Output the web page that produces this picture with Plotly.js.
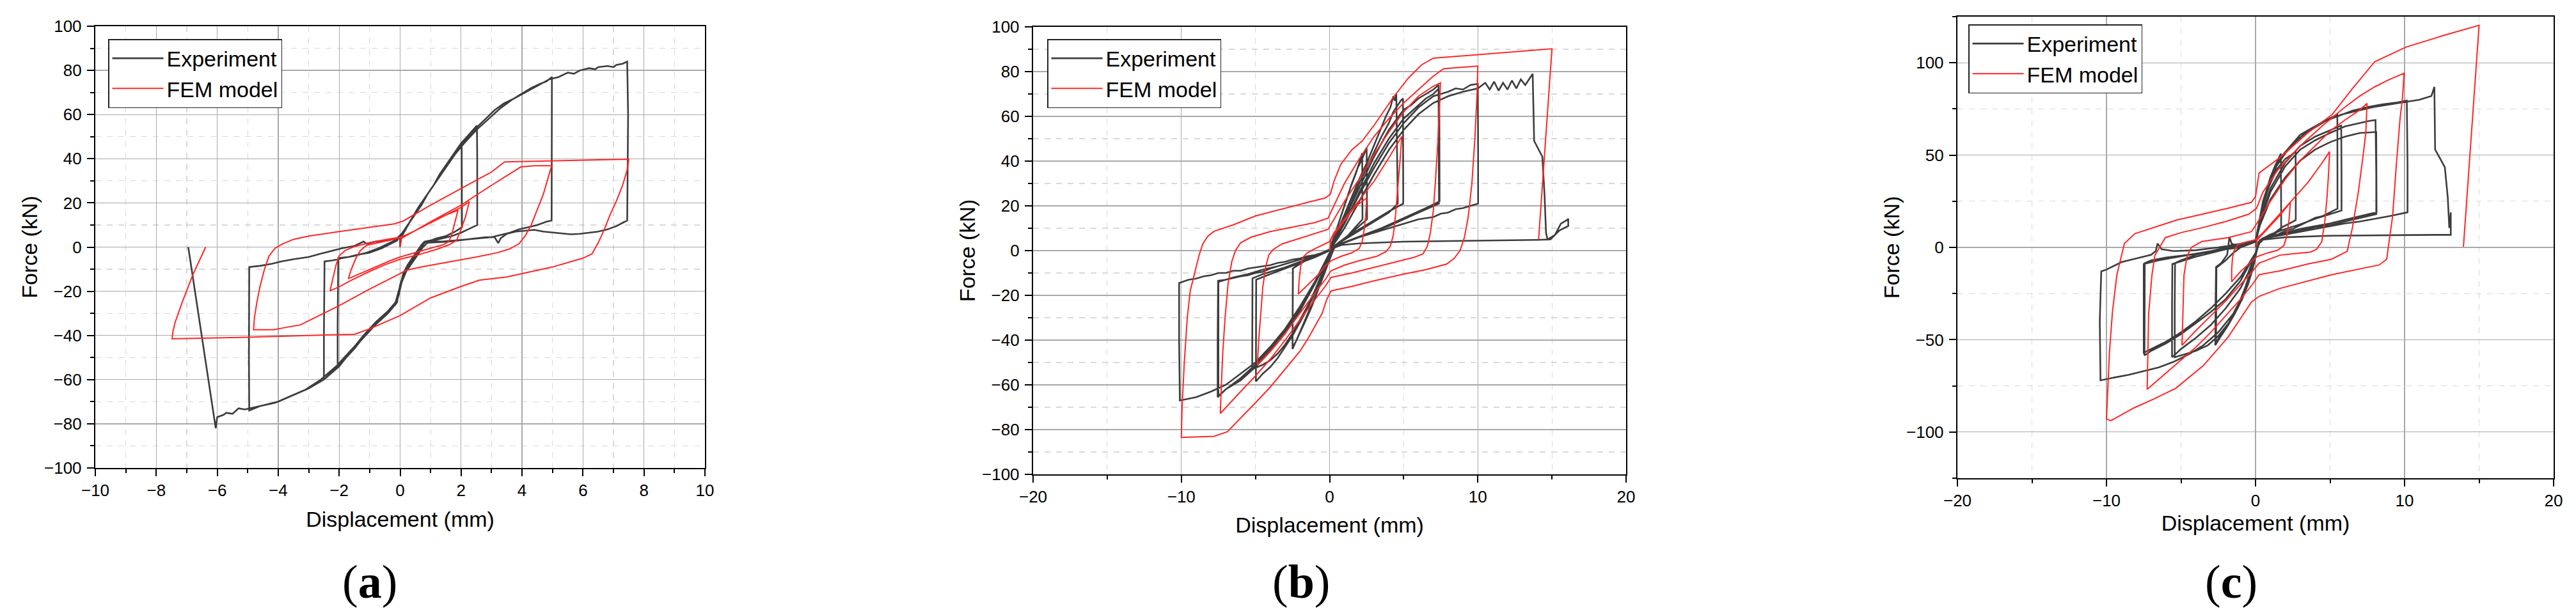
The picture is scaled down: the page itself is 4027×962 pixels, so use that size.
<!DOCTYPE html>
<html>
<head>
<meta charset="utf-8">
<script src="https://cdn.plot.ly/plotly-3.0.1.min.js"></script>
<style>html,body{margin:0;padding:0;background:#fff;}#chart{width:4027px;height:962px;}</style>
</head>
<body>
<div id="chart"></div>
<script>
// ---------- DATA (x = displacement mm, y = force kN) ----------
const seriesNames = ['Experiment', 'FEM model'];
const panelLabels = ['a', 'b', 'c'];

// Panel (a) experiment
const expA = [[0,0],[0,4],[0.1,6],[0.3,11],[0.5,15],[0.7,19],[0.9,24],[1.1,28],[1.3,33],[1.5,37],[1.7,41],[1.9,45],[2.02,47],
[2.03,30],[2.03,9],[1.8,7],[1.5,5],[1.2,4],[1.0,3],[0.8,2.5],[0.7,1],[0.5,-3],[0.3,-7],[0.15,-11],[0.05,-15],[-0.05,-20],[-0.15,-25],[-0.4,-29],[-0.8,-34],[-1.2,-40],[-1.6,-47],[-1.9,-52],[-2.05,-54],
[-2.05,-35],[-2.03,-5],[-1.7,-4.5],[-1.4,-3.5],[-1.0,-2.5],[-0.6,-0.5],[-0.3,1.5],[-0.1,3],[0,5],
[0.2,9],[0.4,13],[0.6,18],[0.8,22],[1.0,26],[1.2,30],[1.5,37],[1.8,43],[2.0,47],[2.2,50],[2.4,53],[2.52,55],
[2.53,40],[2.53,10],[2.3,8.5],[2.0,6.5],[1.7,5],[1.4,4],[1.1,3],[0.8,2.5],[0.65,0],[0.45,-4],[0.25,-8],[0.1,-12],[0,-18],[-0.1,-24],[-0.3,-28],[-0.7,-33],[-1.1,-39],[-1.5,-46],[-1.9,-52],[-2.2,-56],[-2.5,-60],
[-2.5,-40],[-2.48,-6.5],[-2.2,-6],[-1.9,-5],[-1.5,-4],[-1.1,-2.5],[-0.7,-0.5],[-0.4,1.5],[-0.1,3.5],[0.05,6],
[0.3,11],[0.6,18],[0.9,24],[1.2,30],[1.5,37],[1.8,43],[2.1,48],[2.5,54],[2.8,58],[3.1,62],[3.4,65],[3.7,67],[4.0,69.5],[4.3,72],[4.6,74],[4.8,75],[4.98,77],
[4.98,50],[4.97,12],[4.8,11.5],[4.5,10],[4.2,9],[3.9,8],[3.6,6.5],[3.3,5.5],[3.0,4.5],[2.6,4],[2.2,3.5],[1.8,3],[1.4,2.5],[1.0,2.5],[0.8,2],[0.7,0],[0.5,-4],[0.3,-8],[0.15,-11],[0,-17],[-0.1,-25],[-0.4,-30],[-0.8,-35],[-1.2,-41],[-1.6,-47],[-2.0,-54],[-2.5,-60],[-3.0,-64],[-3.5,-67],[-4.0,-70],[-4.3,-71],[-4.6,-72],[-4.95,-74],
[-4.96,-50],[-4.95,-9],[-4.6,-8.5],[-4.2,-7.5],[-3.9,-6.5],[-3.5,-5.5],[-3.0,-4.5],[-2.6,-3],[-2.3,-2],[-1.9,-0.5],[-1.5,0.5],[-1.2,2.5],[-1.1,1.5],[-0.8,2.5],[-0.4,3],[-0.1,4],[0.05,6],
[0.3,11],[0.6,18],[0.9,24],[1.2,30],[1.5,36],[1.8,42],[2.1,47],[2.5,53],[2.9,58],[3.3,63],[3.7,67],[4.1,70],[4.5,73],[4.9,76],[5.2,77],[5.5,79],[5.7,78.5],[5.9,80],[6.2,81],[6.4,80.5],[6.5,81.5],[6.8,82],[7.0,81.5],[7.1,82.5],[7.3,83],[7.45,84],
[7.48,60],[7.46,20],[7.45,12],[7.3,11],[7.1,9.5],[6.8,8],[6.5,7],[6.2,6.5],[5.9,6],[5.6,5.8],[5.3,6.2],[5.0,6.5],[4.7,7],[4.4,7.8],[4.1,7.5],[3.8,7],[3.5,6],[3.3,4],[3.22,1.8],[3.1,4.5],[2.8,4.5],[2.4,3.8],[2.0,3],[1.6,2.5],[1.2,2.2],[0.9,2],[0.75,0],[0.55,-4],[0.35,-8],[0.2,-11],[0.05,-16],[-0.05,-22],[-0.15,-26],[-0.5,-31],[-0.9,-36],[-1.3,-42],[-1.7,-48],[-2.1,-54],[-2.6,-60],[-3.1,-64.5],[-3.6,-67.5],[-4.1,-70.5],[-4.6,-72],[-5.1,-73.5],[-5.3,-73],[-5.5,-75.5],[-5.7,-75],[-5.8,-76],[-6.0,-77],[-6.05,-82],
[-6.95,0]];

// Panel (a) FEM model
const femA = [[0,0],[0.05,4],[0.5,7.5],[1.0,11],[1.5,14.5],[1.9,16.7],
[1.8,11],[1.7,6],[1.6,2.5],[1.4,1],[1.0,-0.5],[0.5,-2.5],[0,-4.5],[-0.3,-6],[-0.8,-9],[-1.3,-12],[-1.7,-14.3],
[-1.6,-10],[-1.45,-5],[-1.3,-1.5],[-1.1,0.8],[-0.7,2],[-0.2,3.5],[0,4.2],[0.5,7.5],[1.0,11],[1.5,14.5],[2.0,18],[2.27,20.6],
[2.15,14],[2.0,8],[1.85,3],[1.6,1],[1.2,-1],[0.6,-3.5],[0,-5.5],[-0.5,-8],[-1.0,-11],[-1.6,-15],[-2.0,-18],[-2.3,-19.8],
[-2.22,-15],[-2.1,-8],[-2.0,-4],[-1.8,-1.5],[-1.5,0.2],[-1.0,2],[-0.5,3.3],[0,4.5],[0.3,6],[1.0,11.5],[2.0,19],[3.0,28],[3.96,36.3],[4.4,36.8],[4.97,36.8],
[4.85,31],[4.7,24],[4.5,17],[4.3,10],[4.1,5],[3.9,1.5],[3.6,-0.8],[3.2,-2.5],[2.5,-4.5],[1.5,-7],[0.7,-9],[0.2,-10.5],[0,-12],[-0.5,-15.5],[-1.0,-19],[-2.0,-26.5],[-3.27,-35.2],[-3.8,-36.5],[-4.15,-37.4],[-4.81,-37.4],
[-4.78,-32],[-4.7,-25],[-4.6,-18],[-4.45,-10],[-4.3,-4],[-4.1,-0.5],[-3.85,1.5],[-3.5,3.5],[-3.0,5],[-2.0,7],[-1.0,9],[-0.2,10.5],[0.1,11.8],[1.0,19],[2.0,26.5],[3.0,34],[3.43,38.6],[5.0,39],[6.5,39.5],[7.5,39.8],
[7.45,35],[7.3,28],[7.1,21],[6.9,15],[6.7,8],[6.5,2],[6.3,-3],[6.0,-5],[5.5,-7],[5.0,-9],[4.0,-12],[3.5,-13.5],[2.6,-15],[2.0,-17.8],[1.0,-23],[0,-31],[-1.0,-37],[-1.5,-39.5],[-3.0,-40],[-5.0,-40.8],[-7.48,-41.5],
[-7.45,-38],[-7.38,-34],[-7.15,-25],[-6.8,-12.5],[-6.38,0]];

// Panel (b) experiment
const expB = [[0,0],[0.3,6],[0.6,12],[1.0,20],[1.4,28],[1.8,35],[2.0,39],[2.2,43.6],
[2.22,14],[1.8,11],[1.4,8],[1.0,5],[0.6,3],[0.3,1],[0,-4],[-0.4,-11],[-0.8,-18],[-1.2,-25],[-1.6,-31],[-2.0,-37],[-2.3,-41],[-2.5,-43],
[-2.48,-8],[-2.0,-6],[-1.5,-4],[-1.0,-2.5],[-0.5,-1],[0,0.5],
[0.3,6],[0.7,14],[1.1,22],[1.5,30],[1.9,37],[2.2,41],[2.5,46],
[2.53,14],[2.0,11],[1.5,8],[1.0,5.5],[0.5,3],[0.2,1],[0,-4],[-0.4,-11],[-0.8,-18],[-1.2,-24],[-1.7,-32],[-2.1,-38],[-2.5,-44],
[-2.47,-8],[-2.0,-5.5],[-1.5,-4],[-1.0,-2],[-0.5,-1],[0,0.5],
[0.5,8],[1.0,16],[1.5,24],[2.0,32],[2.5,39],[3.0,47],[3.5,55],[3.8,60],[4.1,64],[4.3,69],[4.4,67],[4.5,70],
[4.55,45],[4.6,21],[4.0,17],[3.0,13],[2.0,9],[1.0,5],[0.3,2],[0,-3],[-0.5,-10],[-1.0,-18],[-1.5,-25],[-2.0,-31],[-2.5,-37],[-3.0,-42],[-3.5,-46],[-4.0,-49],[-4.5,-51],[-5.22,-53],
[-5.22,-30],[-5.2,-12.4],[-4.5,-10.5],[-4.0,-9.5],[-3.0,-7.5],[-2.0,-5],[-1.0,-2.5],[0,0],
[0.5,7],[1.0,15],[1.5,22],[2.0,30],[2.5,37],[3.0,44],[3.5,51],[4.0,57],[4.3,62],[4.6,65],[4.8,67],[4.95,68],
[4.97,40],[4.97,21],[4.0,17.5],[3.0,13.5],[2.0,9.5],[1.0,5.5],[0.3,2],[0,-3],[-0.5,-11],[-1.0,-19],[-1.5,-26],[-2.0,-32],[-2.5,-38],[-3.0,-43],[-3.5,-48],[-4.0,-52],[-4.5,-55],[-4.97,-58.5],
[-4.97,-30],[-4.95,-13],[-4.0,-10.5],[-3.0,-8],[-2.0,-5.5],[-1.0,-3],[0,0],
[0.5,7],[1.0,14],[1.5,21],[2.0,28],[3.0,42],[4.0,54],[5.0,63],[5.5,65],[6.0,68],[6.5,70],[7.0,72],[7.35,74],
[7.38,40],[7.38,21],[6.0,17],[5.0,14],[4.0,11],[3.0,8.5],[2.0,6],[1.0,3.5],[0.3,1.5],[0,-2],[-1.0,-15],[-2.0,-27],[-3.0,-37],[-4.0,-45],[-5.0,-52],[-6.0,-58],[-7.0,-62],[-7.55,-65.5],
[-7.55,-40],[-7.52,-13.5],[-7.0,-13],[-6.0,-11.5],[-5.5,-11],[-5.0,-10],[-4.5,-9.5],[-4.0,-8],[-3.0,-6],[-2.0,-4],[-1.0,-2],[0,0],
[0.5,6],[1.0,13],[1.5,19],[2.0,26],[3.0,39],[4.0,50],[5.0,59],[6.0,65],[6.5,68],[7.0,70],[7.3,72],[7.4,71],
[7.42,22],[6.5,19],[5.5,16],[4.5,13],[3.5,10],[2.5,7.5],[1.5,5],[0.5,2.5],[0,-1],[-1.0,-14],[-2.0,-26],[-3.0,-36],[-4.0,-44],[-5.0,-51],[-6.0,-57],[-7.0,-62],[-7.5,-65],
[-7.5,-14],[-6.5,-12],[-5.5,-10.5],[-4.5,-8.5],[-3.5,-7],[-2.5,-5],[-1.5,-3],[0,0],
[1.0,12],[2.0,25],[3.0,37],[4.0,48],[5.0,57],[6.0,64],[7.0,69],[8.0,71],[8.5,72.5],[9.0,72],[9.5,74],[10.0,74.5],
[10.02,45],[10.02,21],[9.5,20],[9.0,19],[8.5,18.5],[8.0,17],[7.5,16.5],[7.0,15],[6.0,14],[5.0,12],[4.0,10],[3.0,8],[2.0,6],[1.0,3.5],[0.3,1.5],[0,-2],[-1.0,-14],[-2.0,-25],[-3.0,-35],[-4.0,-43],[-5.0,-50],[-6.0,-55],[-7.0,-60],[-8.0,-63],[-9.0,-65.5],[-10.1,-67],
[-10.15,-40],[-10.15,-14.5],[-9.5,-13],[-9.0,-12.5],[-8.5,-11.5],[-8.0,-11],[-7.5,-10],[-7.0,-10],[-6.5,-9],[-6.0,-9],[-5.5,-8],[-5.0,-7.5],[-4.5,-7],[-4.0,-6.5],[-3.5,-5.5],[-3.0,-5],[-2.5,-4],[-2.0,-3.5],[-1.5,-2.5],[-1.0,-2],[-0.5,-1],[0,0],
[1.0,10],[2.0,22],[3.0,34],[4.0,45],[5.0,54],[6.0,61],[7.0,66],[8.0,69],[9.0,71],[10.0,72.5],[10.5,75],[10.8,72],[11.1,75.5],[11.4,71.5],[11.7,75],[12.0,72],[12.3,76],[12.6,72.5],[12.9,76.5],[13.2,74],[13.5,77],[13.7,79],
[13.8,49],[14.35,42],[14.5,25],[14.6,8],[14.7,5],[15.2,7],[15.6,12],[16.05,13.8],[16.1,14.3],[16.1,11],[15.5,9],[14.9,5],[14.0,4.8],[10.0,4.5],[5.0,4],[2.0,3.2],[0.8,2.5],[0.2,1]];

// Panel (b) FEM model
const femB = [[0,0],[0.1,5],[0.5,9],[1.0,13.5],[1.7,19.5],[2.5,23.5],
[2.45,17],[2.35,10],[2.2,4],[2.0,1],[1.5,-1],[0.8,-2.5],[0.1,-4.5],[-0.3,-7],[-0.8,-11],[-1.5,-15.5],[-2.11,-19.4],
[-2.05,-13],[-1.95,-7],[-1.8,-3],[-1.5,-1],[-1.0,0.8],[-0.5,2.5],[0,4],[0.3,8],[1.0,14],[2.0,22.5],[3.0,31],[4.0,41.5],[4.87,51],
[4.75,40],[4.6,28],[4.45,16],[4.3,7],[4.1,2],[3.8,-0.5],[3.2,-2.5],[2.0,-4.5],[1.0,-6.5],[0.1,-9],[-0.3,-13],[-1.0,-19],[-2.0,-28],[-3.0,-37],[-4.0,-45],[-4.87,-51],
[-4.78,-40],[-4.65,-28],[-4.5,-16],[-4.3,-7],[-4.1,-2],[-3.8,0.5],[-3.2,3],[-2.0,5.5],[-1.0,7.5],[-0.1,9.5],[0.3,14],[1.0,22],[2.0,32],[3.0,43],[4.0,53],[5.0,62],[6.0,69],[7.0,73.5],[7.48,75],
[7.4,62],[7.3,48],[7.15,32],[7.0,18],[6.8,8],[6.6,2],[6.3,-1.5],[5.7,-3],[4.5,-5],[3.0,-7.5],[1.5,-10],[0.1,-12],[-0.3,-16],[-1.0,-22],[-2.0,-31],[-3.0,-40],[-4.0,-48.5],[-5.0,-56],[-6.0,-63],[-7.0,-70],[-7.37,-72.8],
[-7.3,-60],[-7.2,-45],[-7.05,-30],[-6.85,-15],[-6.6,-5],[-6.35,0],[-6.0,3.5],[-5.3,6],[-4.0,8.5],[-2.5,10.5],[-1.0,12.5],[-0.1,14.5],[0.3,20],[1.0,30],[2.0,41],[3.0,51],[4.0,59],[5.0,66],[6.0,72],[7.0,78],[7.7,81.3],[10.0,82.5],
[9.95,70],[9.8,50],[9.6,30],[9.35,15],[9.1,6],[8.8,0],[8.4,-3.5],[7.9,-6],[6.5,-8.5],[5.0,-10.5],[3.0,-13.5],[1.5,-16],[0.1,-18],[-0.2,-22],[-0.5,-28],[-1.4,-38.7],[-2.0,-45],[-3.0,-53],[-4.0,-61],[-5.0,-68],[-6.0,-75],[-6.9,-81],[-7.8,-83],[-10.0,-83.5],
[-9.95,-70],[-9.8,-50],[-9.6,-30],[-9.4,-18],[-9.1,-10],[-8.8,-2],[-8.55,3],[-8.2,6.5],[-7.8,8.6],[-6.5,11.5],[-5.0,15.5],[-3.0,19],[-1.4,21.7],[-0.3,23.5],[0.05,25.2],[0.3,31],[0.75,38.5],[1.5,45],[2.2,49],[3.0,56],[4.3,68.5],[5.3,77],[6.2,83],[7.0,86],[10.0,87.5],[15.0,90.2],
[14.1,5]];

// Panel (c) experiment
const expC = [[0,0],[0.2,10],[0.4,20],[0.7,30],[1.0,38],[1.3,44],[1.7,50.8],
[1.72,20],[1.72,10],[1.4,8],[1.0,6],[0.5,4],[0.2,2],[0,-5],[-0.2,-12],[-0.5,-20],[-0.9,-28],[-1.4,-36],[-1.9,-43],[-2.4,-49],[-2.7,-53],
[-2.68,-30],[-2.65,-10.6],[-2.3,-8.5],[-1.9,-4],[-1.75,5.7],[-1.6,2],[-1.2,1],[-0.6,1.5],[0,3],
[0.2,10],[0.5,22],[0.9,33],[1.4,42],[2.0,48],[2.4,50],[2.69,52],
[2.7,30],[2.7,14.8],[2.3,13],[1.8,11],[1.3,8],[0.8,6],[0.3,3],[0,-3],[-0.3,-12],[-0.7,-22],[-1.2,-32],[-1.8,-41],[-2.4,-48],[-2.65,-52],
[-2.62,-11],[-2.0,-7],[-1.5,-3],[-1.0,0],[-0.4,2],[0,3.5],
[0.2,12],[0.5,25],[0.9,35],[1.4,44],[2.0,51],[2.6,56],[3.2,61],[3.8,64],[4.4,67],[5.0,70],[5.49,72],
[5.5,40],[5.5,21],[5.0,19],[4.5,17],[4.0,16],[3.5,14],[3.0,12],[2.5,10],[2.0,9],[1.5,7],[1.0,6],[0.5,5],[0.2,3],[0,-4],[-0.3,-14],[-0.7,-24],[-1.2,-33],[-1.8,-41],[-2.5,-48],[-3.2,-53],[-4.0,-56],[-4.8,-58],[-5.42,-59.5],
[-5.42,-30],[-5.4,-8.5],[-5.0,-7],[-4.5,-5.5],[-4.0,-4],[-3.5,-3],[-3.0,-2],[-2.0,0],[-1.0,1.5],[0,3.5],
[0.3,14],[1.0,32],[2.0,46],[3.0,55],[4.0,60],[5.0,63.5],[5.75,66],
[5.77,40],[5.77,20],[5.0,18],[4.0,15.5],[3.0,12.5],[2.0,10],[1.0,7],[0.3,4],[0,-3],[-0.5,-14],[-1.0,-22],[-2.0,-33],[-3.0,-42],[-4.0,-49],[-5.0,-55],[-5.6,-59.5],
[-5.6,-30],[-5.58,-9],[-5.0,-7.5],[-4.0,-5],[-3.0,-3],[-2.0,-1],[-1.0,1],[0,3],
[0.3,13],[1.0,30],[2.0,44],[3.0,53],[4.0,58],[5.0,62],[6.0,65.5],[7.0,67.5],[7.6,68.5],[8.05,69],
[8.1,40],[8.1,18],[7.0,16],[6.0,14],[5.0,12],[4.0,11],[3.0,9],[2.0,7.5],[1.0,6],[0.3,4],[0,-3],[-1.0,-18],[-2.0,-28],[-3.0,-35],[-4.0,-41],[-5.0,-47],[-6.0,-52],[-7.0,-56],[-7.45,-58.5],
[-7.45,-30],[-7.43,-8.5],[-7.0,-7],[-6.0,-5.5],[-5.0,-4.5],[-4.0,-3.5],[-3.0,-2.5],[-2.0,-1],[-1.0,0],[0,3],
[0.3,12],[1.0,26],[2.0,38],[3.0,47],[4.0,53],[5.0,57],[6.0,60],[7.0,62],[8.1,62.5],
[8.12,19],[7.0,17],[6.0,15],[5.0,13],[4.0,11.5],[3.0,10],[2.0,8],[1.0,6],[0.3,4],[0,-3],[-1.0,-16],[-2.0,-25],[-3.0,-33],[-4.0,-40],[-5.0,-46],[-6.0,-51],[-7.0,-55],[-7.5,-57],
[-7.5,-9],[-6.5,-7],[-5.5,-5.5],[-4.5,-4],[-3.0,-2],[-1.5,0],[0,3.5],
[0.3,14],[0.8,32],[1.5,46],[2.5,56],[3.5,63],[4.5,68],[5.5,71],[6.5,74],[7.5,76],[8.5,77.5],[9.5,78.5],[10.15,79.5],
[10.2,45],[10.2,19],[9.0,17],[8.0,15.5],[7.0,14],[6.0,13],[5.0,11.5],[4.0,10],[3.0,8.5],[2.0,7],[1.0,5.5],[0.3,4],[0,-3],[-0.3,-13],[-0.8,-25],[-1.5,-36],[-2.5,-46],[-3.5,-53],[-4.5,-58],[-5.5,-62],[-6.5,-65],[-7.5,-67],[-8.5,-69],[-9.5,-70.5],[-10.4,-72],
[-10.45,-40],[-10.35,-13],[-10.0,-12],[-9.5,-10],[-9.0,-8],[-8.0,-6],[-7.0,-4],[-6.7,-2],[-6.57,2.1],[-6.3,-1],[-5.5,-2],[-4.0,-1.5],[-2.5,0],[-1.0,2],[0,4],
[0.3,15],[0.8,33],[1.6,48],[3.0,61],[4.4,67.5],[5.8,72],[7.9,76],[10.2,79],[11.0,80],[11.8,82],[12.0,86.9],
[12.05,53],[12.7,43.5],[12.9,27],[13.0,10.5],[13.1,19],[13.1,6.8],[12.0,6.8],[8.0,6.5],[5.0,6.3],[2.0,5.5],[0.3,4]];

// Panel (c) FEM model
const femC = [[0,0],[0.1,4],[0.8,10],[1.6,17],[2.34,24.4],
[2.25,15],[2.1,6],[1.9,1],[1.5,-1.5],[0.8,-3],[0.1,-5],[-0.3,-8],[-1.0,-13],[-1.6,-18.6],
[-1.6,-12],[-1.55,-6],[-1.45,-2],[-1.2,1.5],[-0.6,3],[0,4.2],[0.5,8],[1.5,17],[2.5,26],[3.5,35],[4.4,45],[4.97,51.9],
[4.9,40],[4.8,27.5],[4.65,14],[4.44,3],[4.1,-1],[3.7,-2.5],[2.5,-3.5],[1.64,-4.2],[0.24,-8.5],[-0.3,-14],[-1.0,-20],[-2.0,-29],[-3.0,-37],[-4.0,-45],[-4.93,-53],
[-4.88,-35],[-4.8,-15],[-4.6,-5],[-4.3,0],[-3.6,3.2],[-1.85,5.3],[-0.28,8.5],[0.07,12.7],[1.0,25],[2.0,37],[3.0,47],[4.0,55],[5.0,63],[6.0,69],[7.0,74.5],[7.48,78],
[7.4,62],[7.2,48.7],[6.9,30],[6.5,10.6],[6.15,-2.1],[5.1,-6.4],[3.5,-9],[1.64,-12.7],[0.24,-14.8],[-0.2,-20],[-1.0,-28],[-2.0,-37],[-3.0,-46],[-4.0,-54],[-5.0,-61],[-6.0,-68],[-7.0,-75],[-7.27,-76.9],
[-7.17,-36],[-6.95,-15],[-6.75,-4.2],[-6.05,5.3],[-5.0,8],[-3.6,10.6],[-2.0,14],[-0.45,18],[0.07,21.2],[0.5,30],[1.5,42],[3.0,55],[4.5,66],[6.0,76],[7.0,82],[8.0,87],[9.0,91],[9.97,94.3],
[9.85,80],[9.7,70],[9.45,45],[9.2,17],[8.8,-6.4],[8.3,-9.5],[5.1,-14.8],[1.64,-22.2],[0.24,-26.5],[-0.28,-29.7],[-1.85,-48.7],[-3.5,-64],[-5.35,-76.3],[-6.8,-82],[-8.15,-86.9],[-9.2,-91.5],[-9.7,-93.8],[-10.0,-93],
[-9.9,-75],[-9.8,-57],[-9.6,-35],[-9.3,-14.8],[-8.8,2.1],[-8.1,7.4],[-5.3,14.8],[-1.85,21.2],[-0.28,24.4],[0,27.5],[0.24,40.3],[1.64,48.7],[3.5,62],[5.14,72],[6.5,86],[8.0,100.6],[10.1,108.5],[12.5,114.5],[15.0,120.3],
[13.95,0.4]];

// Axis settings per panel
const xRanges = [[-10,10],[-20,20],[-20,20]];
const yRanges = [[-100,100],[-100,100],[-125,125]];
const xMajor = [2,10,10], xMinor = [1,5,5];
const yMajor = [20,20,50], yMinor = [10,10,25];

// ---------- BUILD ----------
const W = 4027, H = 962;
const px = v => v / W, py = v => 1 - v / H;
const expColor = '#3d3d3d', femColor = '#ff2626';
const expSets = [expA, expB, expC], femSets = [femA, femB, femC];
const suffix = ['', '2', '3'];
const legendIds = ['legend', 'legend2', 'legend3'];

const traces = [];
for (let i = 0; i < 3; i++) {
  traces.push({
    x: expSets[i].map(p => p[0]), y: expSets[i].map(p => p[1]),
    type: 'scatter', mode: 'lines', name: seriesNames[0],
    xaxis: 'x' + suffix[i], yaxis: 'y' + suffix[i], legend: legendIds[i],
    line: {color: expColor, width: 2.6}
  });
  traces.push({
    x: femSets[i].map(p => p[0]), y: femSets[i].map(p => p[1]),
    type: 'scatter', mode: 'lines', name: seriesNames[1],
    xaxis: 'x' + suffix[i], yaxis: 'y' + suffix[i], legend: legendIds[i],
    line: {color: femColor, width: 2}
  });
}

// plot-area pixel boxes [left, right, top, bottom]
const boxes = [[149,1102,41,732],[1615,2542,42,742],[3060,3992,26,748]];
const legendPos = [[169,61],[1637,61],[3077,38]];
const labelX = [578, 2034, 3488];
const xTitleStandoff = [19, 18, 9];

function axisBase() {
  return {
    showline: true, linecolor: '#000', linewidth: 2.2, mirror: true,
    ticks: 'outside', ticklen: 11, tickwidth: 2, tickcolor: '#000',
    showgrid: true, gridcolor: '#a9a9a9', gridwidth: 1.4,
    zeroline: false, fixedrange: true,
    tickfont: {size: 26, color: '#000', family: 'Liberation Sans, Arial, sans-serif'},
  };
}

const layout = {
  width: W, height: H,
  margin: {l: 0, r: 0, t: 0, b: 0},
  paper_bgcolor: '#fff', plot_bgcolor: '#fff',
  font: {family: 'Liberation Sans, Arial, sans-serif', size: 26, color: '#000'},
  showlegend: true,
  annotations: []
};

for (let i = 0; i < 3; i++) {
  const b = boxes[i];
  const xa = Object.assign(axisBase(), {
    domain: [px(b[0]), px(b[1])], range: xRanges[i], dtick: xMajor[i], tick0: 0,
    anchor: 'y' + suffix[i],
    minor: {dtick: xMinor[i], tick0: 0, ticks: 'outside', ticklen: 6, tickwidth: 2, tickcolor: '#000',
            showgrid: true, gridcolor: '#d9d9d9', gridwidth: 1.2, griddash: 'dash'},
    title: {text: 'Displacement (mm)', font: {size: 34, color: '#000'}, standoff: xTitleStandoff[i]}
  });
  const ya = Object.assign(axisBase(), {
    domain: [py(b[3]), py(b[2])], range: yRanges[i], dtick: yMajor[i], tick0: 0,
    anchor: 'x' + suffix[i], ticklabelstandoff: 3,
    minor: {dtick: yMinor[i], tick0: 0, ticks: 'outside', ticklen: 6, tickwidth: 2, tickcolor: '#000',
            showgrid: true, gridcolor: '#d9d9d9', gridwidth: 1.2, griddash: 'dash'},
    title: {text: 'Force (kN)', font: {size: 34, color: '#000'}, standoff: 0}
  });
  layout['xaxis' + suffix[i]] = xa;
  layout['yaxis' + suffix[i]] = ya;
  layout[legendIds[i]] = {
    x: px(legendPos[i][0]), y: py(legendPos[i][1]), xanchor: 'left', yanchor: 'top',
    xref: 'paper', yref: 'paper',
    bgcolor: '#fff', bordercolor: '#222', borderwidth: 1.5,
    font: {size: 34, color: '#000'}, itemwidth: 80, tracegroupgap: 0
  };
  layout.annotations.push({
    text: '(<b>' + panelLabels[i] + '</b>)', xref: 'paper', yref: 'paper',
    x: px(labelX[i]), y: py(910), xanchor: 'center', yanchor: 'middle', showarrow: false,
    font: {family: 'Liberation Serif, Times New Roman, serif', size: 74, color: '#000'}
  });
}

Plotly.newPlot('chart', traces, layout, {staticPlot: true, displayModeBar: false});
</script>
</body>
</html>
